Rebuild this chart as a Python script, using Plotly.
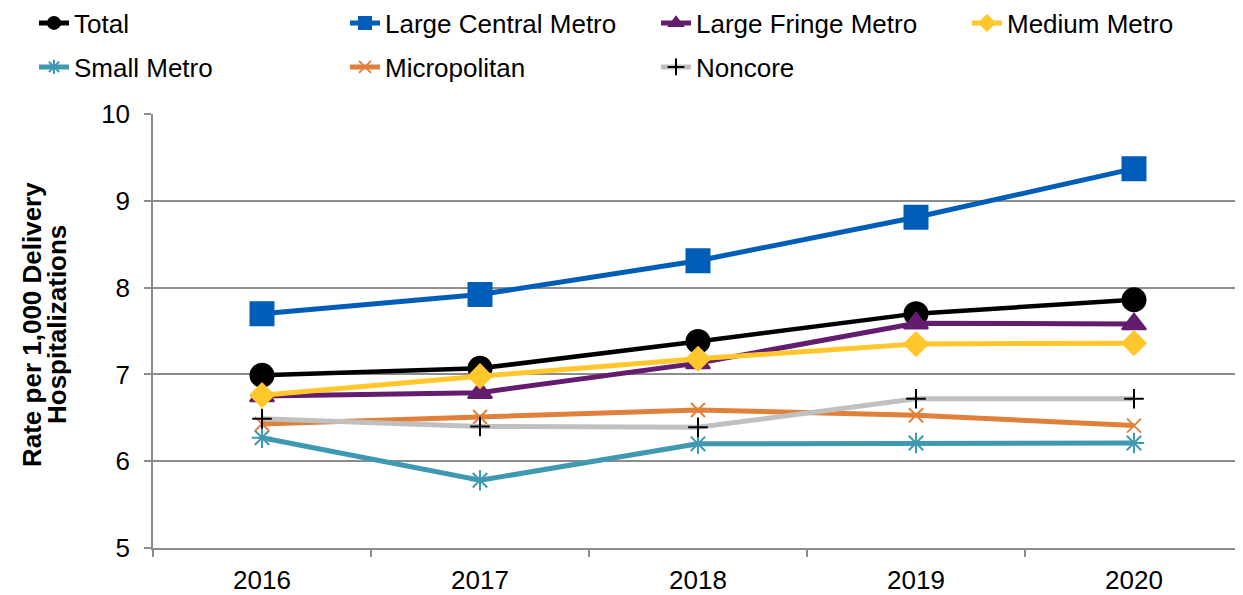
import plotly.graph_objects as go

# Values
years = ["2016", "2017", "2018", "2019", "2020"]

total = [6.99, 7.07, 7.38, 7.70, 7.86]
large_central = [7.70, 7.92, 8.31, 8.81, 9.37]
large_fringe = [6.75, 6.79, 7.13, 7.59, 7.58]
medium_metro = [6.76, 6.98, 7.18, 7.35, 7.36]
small_metro = [6.27, 5.78, 6.20, 6.21, 6.21]
micropolitan = [6.43, 6.51, 6.59, 6.53, 6.41]
noncore = [6.49, 6.40, 6.39, 6.72, 6.72]

FONT = "Arial, Liberation Sans, sans-serif"
GRID = "#8C8C8C"

# page body has an 8px margin, so the figure is drawn 8px smaller
W, H = 1235, 587
L, T, B = 145, 106, 45

series = [
    # name, values, line colour, marker symbol, marker size, marker colour, legend
    ("Total", total, "#000000", "circle", 23, "#000000", "legend"),
    ("Large Central Metro", large_central, "#005EB8", "square", 23, "#005EB8", "legend"),
    ("Large Fringe Metro", large_fringe, "#641C6E", "triangle-up", 21, "#641C6E", "legend"),
    ("Medium Metro", medium_metro, "#FFC72C", "diamond", 18, "#FFC72C", "legend3"),
    ("Small Metro", small_metro, "#4099B2", "asterisk-open", 17, "#4099B2", "legend2"),
    ("Micropolitan", micropolitan, "#E0803A", "x-thin-open", 14, "#E0803A", "legend2"),
    ("Noncore", noncore, "#C0C0C0", "cross-thin-open", 14, "#000000", "legend2"),
]

fig = go.Figure()
for name, vals, lc, sym, size, mc, leg in series:
    fig.add_trace(go.Scatter(
        x=years, y=vals, name=name, mode="lines+markers",
        line=dict(color=lc, width=5 if name != "Total" else 4.5),
        marker=dict(symbol=sym, size=size, color=mc,
                    line=dict(color=mc, width=2)),
        legend=leg,
    ))

leg_common = dict(
    orientation="h", xref="container", yref="container",
    xanchor="left", yanchor="middle",
    font=dict(family=FONT, size=26, color="#000000"),
    itemsizing="constant", bgcolor="rgba(0,0,0,0)",
)

fig.update_layout(
    width=W, height=H,
    margin=dict(l=L, r=0, t=T, b=B),
    paper_bgcolor="white", plot_bgcolor="white",
    font=dict(family=FONT, size=26, color="#000000"),
    showlegend=True,
    legend=dict(x=26 / W, y=1 - 15 / H, entrywidth=266, **leg_common),
    legend2=dict(x=26 / W, y=1 - 59 / H, entrywidth=266, **leg_common),
    legend3=dict(x=959 / W, y=1 - 15 / H, **leg_common),
    xaxis=dict(
        type="category", range=[-0.5, 4.5],
        showline=True, linecolor=GRID, linewidth=1.5,
        ticks="outside", tickson="boundaries", ticklen=7,
        tickcolor=GRID, tickwidth=1.5,
        showgrid=False, zeroline=False, ticklabelstandoff=8,
        tickfont=dict(family=FONT, size=26, color="#000000"),
    ),
    yaxis=dict(
        range=[5, 10], dtick=1,
        showline=True, linecolor=GRID, linewidth=1.5,
        ticks="outside", ticklen=7, tickcolor=GRID, tickwidth=1.5,
        showgrid=True, gridcolor=GRID, gridwidth=1.5,
        zeroline=False, ticklabelstandoff=9,
        tickfont=dict(family=FONT, size=26, color="#000000"),
    ),
)

# y-axis title as two tight rotated lines
plot_w = W - L
plot_h = H - T - B
for txt, xpix in [("Rate per 1,000 Delivery", 24), ("Hospitalizations", 49)]:
    fig.add_annotation(
        text="<b>" + txt + "</b>", xref="paper", yref="paper",
        x=(xpix - L) / plot_w, y=(H - B - 318) / plot_h,
        xanchor="center", yanchor="middle", textangle=-90,
        showarrow=False, font=dict(family=FONT, size=26, color="#000000"),
    )

fig.write_html("out.html")
